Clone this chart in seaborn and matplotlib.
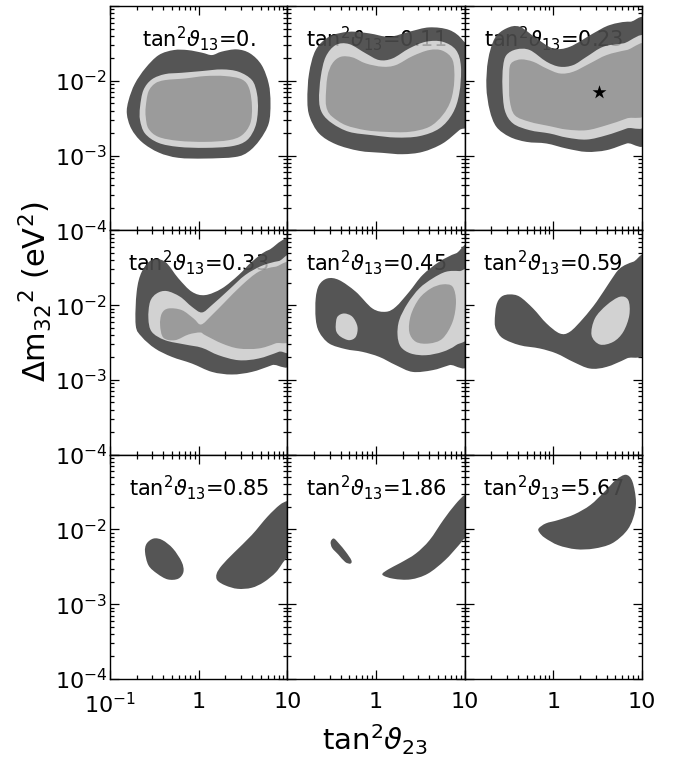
import numpy as np
import matplotlib
matplotlib.use("Agg")
import matplotlib.pyplot as plt
from matplotlib.path import Path
from matplotlib.patches import PathPatch
import seaborn as sns
import pandas as pd

# ---------------- data (log10 tan^2 theta23, log10 dm32^2 [eV^2]) ----------------
theta13_labels = ["0.", "0.11", "0.23", "0.33", "0.45", "0.59", "0.85", "1.86", "5.67"]

p1_99 = [(-0.79, -2.26), (-0.72, -2.04), (-0.60, -1.83), (-0.45, -1.656), (-0.28, -1.589), (-0.12, -1.59),
         (0.04, -1.625), (0.15, -1.656), (0.26, -1.61), (0.43, -1.58), (0.58, -1.634), (0.71, -1.79),
         (0.79, -2.04), (0.81, -2.30), (0.79, -2.57), (0.69, -2.79), (0.56, -2.95), (0.41, -3.02),
         (0.07, -3.04), (-0.23, -3.03), (-0.45, -2.96), (-0.64, -2.82), (-0.76, -2.64), (-0.81, -2.44)]
p1_90 = [(-0.661, -2.348), (-0.623, -2.125), (-0.529, -1.982), (-0.379, -1.911), (-0.190, -1.893),
         (0.036, -1.870), (0.262, -1.848), (0.450, -1.879), (0.601, -1.991), (0.657, -2.170),
         (0.668, -2.393), (0.638, -2.616), (0.544, -2.795), (0.375, -2.875), (0.073, -2.897),
         (-0.228, -2.884), (-0.454, -2.830), (-0.605, -2.705), (-0.661, -2.527)]
p1_68 = [(-0.597, -2.348), (-0.567, -2.147), (-0.492, -2.036), (-0.379, -1.991), (-0.153, -1.969),
         (0.073, -1.937), (0.299, -1.937), (0.488, -1.982), (0.570, -2.103), (0.601, -2.348),
         (0.582, -2.571), (0.488, -2.728), (0.337, -2.795), (0.073, -2.817), (-0.228, -2.803),
         (-0.454, -2.750), (-0.567, -2.638), (-0.597, -2.482)]

p2_99 = [(-0.774, -2.259), (-0.755, -1.902), (-0.680, -1.589), (-0.529, -1.411), (-0.303, -1.344),
         (-0.077, -1.366), (0.149, -1.411), (0.375, -1.344), (0.601, -1.286), (0.827, -1.321),
         (0.977, -1.455), (1.07, -1.679), (1.07, -2.527), (0.939, -2.661), (0.751, -2.839),
         (0.525, -2.951), (0.299, -2.982), (0.073, -2.964), (-0.190, -2.937), (-0.454, -2.848),
         (-0.642, -2.705), (-0.748, -2.482)]
p2_90 = [(-0.642, -2.259), (-0.623, -1.946), (-0.567, -1.679), (-0.454, -1.522), (-0.303, -1.509),
         (-0.115, -1.634), (0.036, -1.723), (0.186, -1.701), (0.375, -1.567), (0.563, -1.478),
         (0.751, -1.478), (0.902, -1.589), (0.958, -1.812), (0.939, -2.170), (0.864, -2.437),
         (0.714, -2.638), (0.488, -2.741), (0.224, -2.759), (-0.040, -2.728), (-0.303, -2.683),
         (-0.492, -2.571), (-0.605, -2.437)]
p2_68 = [(-0.567, -2.259), (-0.548, -1.946), (-0.492, -1.768), (-0.397, -1.679), (-0.266, -1.687),
         (-0.115, -1.768), (0.073, -1.812), (0.224, -1.790), (0.412, -1.670), (0.601, -1.589),
         (0.751, -1.598), (0.864, -1.723), (0.883, -1.991), (0.845, -2.259), (0.751, -2.460),
         (0.601, -2.616), (0.375, -2.683), (0.111, -2.683), (-0.115, -2.661), (-0.341, -2.594),
         (-0.492, -2.482), (-0.548, -2.393)]

p3_99 = [(-0.755, -2.080), (-0.736, -1.723), (-0.661, -1.433), (-0.529, -1.299), (-0.379, -1.277),
         (-0.190, -1.433), (-0.002, -1.567), (0.186, -1.545), (0.450, -1.366), (0.638, -1.254),
         (0.864, -1.210), (1.07, -1.277), (1.07, -2.750), (0.827, -2.839), (0.601, -2.928),
         (0.375, -2.951), (0.149, -2.906), (-0.077, -2.839), (-0.303, -2.817), (-0.492, -2.750),
         (-0.642, -2.616), (-0.718, -2.393)]
p3_90 = [(-0.574, -2.080), (-0.567, -1.812), (-0.529, -1.656), (-0.416, -1.580), (-0.266, -1.589),
         (-0.077, -1.745), (0.073, -1.812), (0.224, -1.790), (0.375, -1.679), (0.563, -1.545),
         (0.789, -1.500), (1.07, -1.455), (1.07, -2.527), (0.827, -2.638), (0.601, -2.728),
         (0.375, -2.786), (0.149, -2.759), (-0.040, -2.705), (-0.266, -2.661), (-0.454, -2.571),
         (-0.548, -2.393)]
p3_68 = [(-0.499, -1.991), (-0.492, -1.812), (-0.454, -1.745), (-0.360, -1.714), (-0.228, -1.745),
         (-0.077, -1.835), (0.073, -1.902), (0.224, -1.879), (0.412, -1.768), (0.601, -1.656),
         (0.827, -1.589), (1.07, -1.545), (1.07, -2.393), (0.827, -2.504), (0.601, -2.594),
         (0.375, -2.661), (0.149, -2.652), (-0.040, -2.607), (-0.266, -2.549), (-0.435, -2.460),
         (-0.492, -2.259)]

p4_99 = [(-0.710, -2.268), (-0.699, -1.821), (-0.642, -1.554), (-0.529, -1.397), (-0.379, -1.420),
         (-0.228, -1.643), (-0.077, -1.821), (0.073, -1.866), (0.262, -1.777), (0.450, -1.598),
         (0.601, -1.420), (0.789, -1.263), (1.07, -1.205), (1.07, -2.692), (0.827, -2.803),
         (0.601, -2.893), (0.375, -2.928), (0.149, -2.893), (-0.077, -2.781), (-0.303, -2.692),
         (-0.492, -2.580), (-0.642, -2.424)]
p4_90 = [(-0.567, -2.178), (-0.548, -1.955), (-0.473, -1.844), (-0.360, -1.812), (-0.209, -1.888),
         (-0.077, -2.022), (0.036, -2.098), (0.149, -2.000), (0.337, -1.799), (0.525, -1.598),
         (0.714, -1.473), (0.902, -1.411), (1.07, -1.397), (1.07, -2.536), (0.902, -2.625),
         (0.676, -2.714), (0.450, -2.737), (0.224, -2.670), (0.036, -2.571), (-0.153, -2.527),
         (-0.379, -2.469), (-0.529, -2.357)]
p4_68 = [(-0.435, -2.268), (-0.416, -2.112), (-0.341, -2.045), (-0.190, -2.067), (-0.058, -2.178),
         (0.028, -2.259), (0.149, -2.134), (0.299, -1.955), (0.488, -1.732), (0.676, -1.554),
         (0.864, -1.487), (1.07, -1.487), (1.07, -2.402), (0.864, -2.513), (0.676, -2.580),
         (0.450, -2.580), (0.262, -2.513), (0.073, -2.402), (0.017, -2.366), (-0.115, -2.393),
         (-0.266, -2.469), (-0.397, -2.437)]

p5_99 = [(-0.680, -2.178), (-0.680, -1.911), (-0.642, -1.732), (-0.548, -1.643), (-0.416, -1.665),
         (-0.228, -1.821), (-0.040, -2.045), (0.111, -2.089), (0.224, -2.022), (0.375, -1.821),
         (0.525, -1.598), (0.714, -1.420), (0.902, -1.308), (1.07, -1.277), (1.07, -2.714),
         (0.827, -2.803), (0.638, -2.870), (0.412, -2.893), (0.224, -2.803), (0.036, -2.692),
         (-0.153, -2.625), (-0.341, -2.589), (-0.529, -2.513), (-0.642, -2.357)]
p5_90a = [(-0.454, -2.268), (-0.435, -2.156), (-0.360, -2.112), (-0.266, -2.156), (-0.209, -2.290),
          (-0.228, -2.424), (-0.303, -2.469), (-0.397, -2.424), (-0.446, -2.357)]
p5_90b = [(0.243, -2.402), (0.262, -2.201), (0.356, -1.978), (0.488, -1.777), (0.638, -1.643),
          (0.789, -1.554), (0.939, -1.545), (1.07, -1.576), (1.07, -2.357), (0.902, -2.536),
          (0.751, -2.625), (0.563, -2.670), (0.393, -2.647), (0.280, -2.558)]
p5_68 = [(0.375, -2.357), (0.393, -2.134), (0.488, -1.911), (0.619, -1.777), (0.751, -1.723),
         (0.864, -1.754), (0.902, -1.955), (0.864, -2.223), (0.751, -2.446), (0.601, -2.513),
         (0.450, -2.491)]

p6_99 = [(-0.661, -2.223), (-0.642, -2.000), (-0.586, -1.888), (-0.492, -1.857), (-0.379, -1.888),
         (-0.228, -2.045), (-0.077, -2.245), (0.073, -2.379), (0.186, -2.357), (0.337, -2.178),
         (0.488, -1.955), (0.638, -1.687), (0.751, -1.509), (0.902, -1.420), (1.07, -1.384),
         (1.07, -2.558), (0.827, -2.714), (0.601, -2.826), (0.412, -2.848), (0.224, -2.759),
         (0.036, -2.647), (-0.153, -2.580), (-0.379, -2.536), (-0.567, -2.446), (-0.642, -2.335)]
p6_90 = [(0.431, -2.402), (0.469, -2.178), (0.601, -2.000), (0.751, -1.888), (0.845, -1.933),
         (0.857, -2.134), (0.789, -2.357), (0.676, -2.491), (0.525, -2.527)]

p7_99a = [(-0.605, -2.300), (-0.586, -2.188), (-0.507, -2.121), (-0.408, -2.143), (-0.290, -2.256),
          (-0.191, -2.435), (-0.172, -2.569), (-0.231, -2.659), (-0.349, -2.668), (-0.467, -2.592),
          (-0.566, -2.480)]
p7_99b = [(0.211, -2.681), (0.203, -2.592), (0.262, -2.480), (0.400, -2.309), (0.598, -2.076),
          (0.775, -1.830), (0.913, -1.673), (1.0, -1.619), (1.09, -1.605), (1.09, -2.39),
          (0.99, -2.39), (0.874, -2.569), (0.736, -2.704), (0.598, -2.780), (0.440, -2.794),
          (0.302, -2.749)]

p8_99a = [(-0.511, -2.166), (-0.476, -2.121), (-0.418, -2.188), (-0.340, -2.300), (-0.278, -2.412),
          (-0.289, -2.457), (-0.348, -2.435), (-0.425, -2.336), (-0.495, -2.247)]
p8_99b = [(0.072, -2.605), (0.196, -2.659), (0.390, -2.668), (0.584, -2.592), (0.778, -2.412),
          (0.934, -2.211), (1.0, -2.121), (1.07, -2.10), (1.07, -1.52), (1.0, -1.538),
          (0.895, -1.664), (0.759, -1.874), (0.604, -2.143), (0.448, -2.323), (0.274, -2.448),
          (0.138, -2.534)]

p9_99 = [(-0.165, -1.986), (-0.084, -1.919), (0.056, -1.874), (0.237, -1.798), (0.418, -1.673),
         (0.578, -1.493), (0.707, -1.336), (0.819, -1.269), (0.892, -1.359), (0.932, -1.628),
         (0.900, -1.852), (0.819, -2.031), (0.659, -2.188), (0.458, -2.256), (0.257, -2.265),
         (0.056, -2.211), (-0.096, -2.112), (-0.157, -2.040)]

best_fit_x = [3.3]       # tan^2 theta23 of best fit (panel tan^2 theta13 = 0.23)
best_fit_y = [7.1e-3]    # dm32^2 [eV^2]

panel_regions = [
    [(p1_99, "99"), (p1_90, "90"), (p1_68, "68")],
    [(p2_99, "99"), (p2_90, "90"), (p2_68, "68")],
    [(p3_99, "99"), (p3_90, "90"), (p3_68, "68")],
    [(p4_99, "99"), (p4_90, "90"), (p4_68, "68")],
    [(p5_99, "99"), (p5_90a, "90"), (p5_90b, "90"), (p5_68, "68")],
    [(p6_99, "99"), (p6_90, "90")],
    [(p7_99a, "99"), (p7_99b, "99")],
    [(p8_99a, "99"), (p8_99b, "99")],
    [(p9_99, "99")],
]

level_colors = {"99": "#555555", "90": "#d2d2d2", "68": "#9b9b9b"}

# ---------------- helpers ----------------
def smooth_closed_path(pts):
    """Closed Catmull-Rom outline through the read-off vertices (log space) -> Bezier path in data units."""
    P = np.asarray(pts, dtype=float)
    n = len(P)
    verts = [P[0]]
    codes = [Path.MOVETO]
    for i in range(n):
        p0, p1, p2, p3 = P[(i - 1) % n], P[i], P[(i + 1) % n], P[(i + 2) % n]
        c1 = p1 + (p2 - p0) / 6.0
        c2 = p2 - (p3 - p1) / 6.0
        verts += [c1, c2, p2]
        codes += [Path.CURVE4] * 3
    verts = 10.0 ** np.asarray(verts)
    return Path(verts, codes)


# ---------------- figure ----------------
sns.set_theme(style="ticks")
plt.rcParams["font.family"] = ["DejaVu Sans"]
plt.rcParams["mathtext.fontset"] = "dejavusans"
plt.rcParams["text.color"] = "black"
plt.rcParams["xtick.color"] = "black"
plt.rcParams["ytick.color"] = "black"
plt.rcParams["xtick.labelcolor"] = "black"
plt.rcParams["ytick.labelcolor"] = "black"

fig, axes = plt.subplots(3, 3, figsize=(6.81, 7.58), dpi=100, sharex=False, sharey=False)
fig.subplots_adjust(left=110 / 681, right=642 / 681, top=1 - 6 / 758, bottom=1 - 679 / 758,
                    wspace=0, hspace=0)

for k, ax in enumerate(axes.flat):
    r, c = divmod(k, 3)
    ax.set_xscale("log")
    ax.set_yscale("log")
    ax.set_xlim(0.1, 10)
    ax.set_ylim(1e-4, 1e-1)
    ax.set_facecolor("white")

    for pts, lvl in panel_regions[k]:
        patch = PathPatch(smooth_closed_path(pts), facecolor=level_colors[lvl],
                          edgecolor="none", zorder=2)
        ax.add_patch(patch)

    title = r"tan$^2\vartheta_{13}$=" + theta13_labels[k]
    ax.text(0.5, 0.855, title, transform=ax.transAxes, ha="center", va="center",
            fontsize=15, color="black", zorder=1)
    ax.text(0.5, 0.855, title, transform=ax.transAxes, ha="center", va="center",
            fontsize=15, color="black", alpha=0.22, zorder=3)

    if k == 2:
        star_df = pd.DataFrame({"x": best_fit_x, "y": best_fit_y})
        sns.scatterplot(data=star_df, x="x", y="y", marker="*", s=110, color="black",
                        edgecolor="black", linewidth=0, ax=ax, zorder=4, legend=False)
    ax.set_xlabel("")
    ax.set_ylabel("")

    ax.set_xticks([0.1, 1, 10])
    ax.set_yticks([1e-4, 1e-3, 1e-2, 1e-1])
    if r == 2:
        if c == 0:
            ax.set_xticklabels([r"$10^{-1}$", "1", "10"])
        else:
            ax.set_xticklabels(["", "1", "10"])
    else:
        ax.set_xticklabels(["", "", ""])
    if c == 0:
        ax.set_yticklabels([r"$10^{-4}$", r"$10^{-3}$", r"$10^{-2}$", ""])
    else:
        ax.set_yticklabels(["", "", "", ""])

    ax.tick_params(which="both", direction="in", top=True, right=True, bottom=True, left=True,
                   color="black", labelcolor="black", width=0.9)
    ax.tick_params(which="major", length=6.5, labelsize=16)
    ax.tick_params(which="minor", length=3.2)
    ax.tick_params(axis="x", which="major", pad=9)
    ax.tick_params(axis="y", which="major", pad=2)
    for sp in ax.spines.values():
        sp.set_color("black")
        sp.set_linewidth(1.0)

fig.text(375 / 681, 1 - 740 / 758, r"tan$^2\vartheta_{23}$", ha="center", va="center", fontsize=21)
fig.text(35 / 681, 1 - 292 / 758, r"$\Delta$m$_{32}$$^2$ (eV$^2$)", ha="center", va="center",
         rotation=90, fontsize=22)

fig.savefig("out.png", dpi=100, facecolor="white")
